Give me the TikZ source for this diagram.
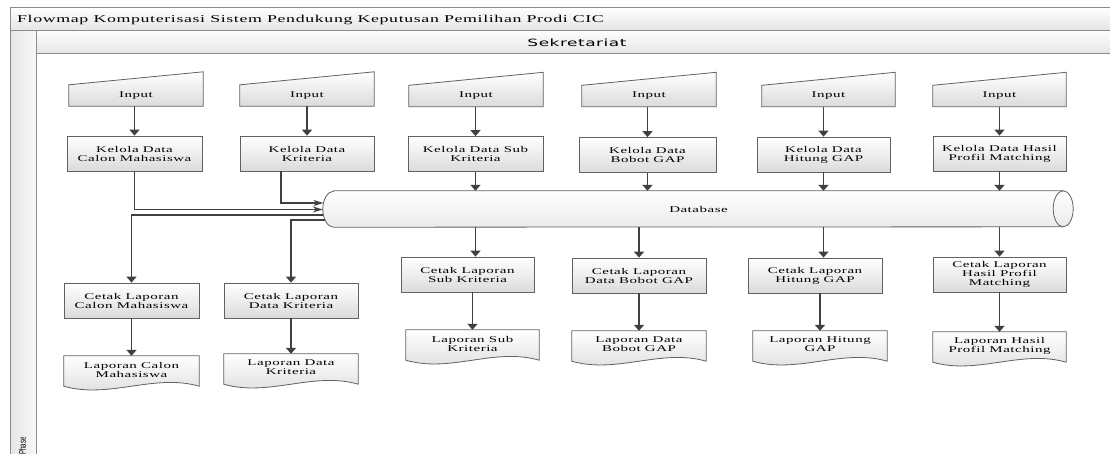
\documentclass[tikz,border=0pt]{standalone}
\usepackage{fontspec}
\usetikzlibrary{arrows.meta,calc,backgrounds}
\newfontfamily\flowserif[FakeStretch=1.7,LetterSpace=6]{Liberation Serif}
\newfontfamily\flowsans[FakeStretch=1.7,LetterSpace=5]{DejaVu Sans}
\newfontfamily\flowlabel{Liberation Sans}
\begin{document}
\begin{tikzpicture}[x=1pt,y=-1pt,
  lanefill/.style={top color=white,bottom color=black!10},
  laneline/.style={draw=black!45,line width=0.9pt},
  txt/.style={font=\flowserif\fontsize{8.8}{9}\selectfont,align=center,text=black},
  procbox/.style={txt,draw=black!62,line width=0.8pt,top color=white,bottom color=black!14,inner sep=0pt,minimum height=35pt},
  inbox/.style={txt,inner sep=0pt,minimum height=21pt},
  docbox/.style={txt,inner sep=0pt,minimum height=27pt},
  shapeline/.style={draw=black!62,line width=0.8pt,top color=white,bottom color=black!14},
  flow/.style={draw=black!75,line width=1.8pt,-{Triangle[length=6pt,width=10pt]}},
  feed/.style={draw=black!75,line width=1.3pt,-{Stealth[length=10pt,width=6pt,inset=3pt]}},
]
\useasboundingbox (0,0) rectangle (1110,453);

% swimlane frame
\path[lanefill] (10,7) rectangle (1111,30);
\path[lanefill] (36,30) rectangle (1111,53);
\path[left color=black!10,right color=black!3] (10,30) rectangle (36,454);
\draw[laneline] (1111,7) -- (10,7) -- (10,454);
\draw[laneline] (10,30) -- (1111,30);
\draw[laneline] (36,30) -- (36,454);
\draw[laneline] (36,53) -- (1111,53);

\node[anchor=base west,font=\flowserif\fontsize{10.5}{12}\selectfont,inner sep=0pt] (title) at (17,22)
  {Flowmap Komputerisasi Sistem Pendukung Keputusan Pemilihan Prodi CIC};
\node[anchor=base,font=\flowsans\fontsize{10}{12}\selectfont,inner sep=0pt] (lane) at (577,46) {Sekretariat};
\node[rotate=90,font=\flowlabel\fontsize{6}{7}\selectfont,inner sep=0pt] (phase) at (22.5,446) {\scalebox{1}[1.6]{Phase}};

% manual inputs
\node[inbox,minimum width=134pt] (i1) at (136,95.5) {Input};
\node[inbox,minimum width=134pt] (i2) at (307,95.5) {Input};
\node[inbox,minimum width=134pt] (i3) at (476,96) {Input};
\node[inbox,minimum width=134pt] (i4) at (649,96) {Input};
\node[inbox,minimum width=133pt] (i5) at (828.5,96) {Input};
\node[inbox,minimum width=133pt] (i6) at (999.5,96) {Input};

% data management processes
\node[procbox,minimum width=135pt] (k1) at (134.5,153.5) {Kelola Data\\Calon Mahasiswa};
\node[procbox,minimum width=134pt] (k2) at (307,153.5) {Kelola Data\\Kriteria};
\node[procbox,minimum width=135pt] (k3) at (475.5,154) {Kelola Data Sub\\Kriteria};
\node[procbox,minimum width=137pt] (k4) at (647.5,155) {Kelola Data\\Bobot GAP};
\node[procbox,minimum width=133pt] (k5) at (823.5,154.5) {Kelola Data\\Hitung GAP};
\node[procbox,minimum width=133pt] (k6) at (999.5,153.5) {Kelola Data Hasil\\Profil Matching};

% database
\node[txt,minimum width=729pt,minimum height=36pt,inner sep=0pt] (db) at (698.5,209) {Database};

% report printing processes
\node[procbox,minimum width=135pt] (c1) at (131.5,300.5) {Cetak Laporan\\Calon Mahasiswa};
\node[procbox,minimum width=134pt] (c2) at (291,300.5) {Cetak Laporan\\Data Kriteria};
\node[procbox,minimum width=133pt] (c3) at (467.5,274.5) {Cetak Laporan\\Sub Kriteria};
\node[procbox,minimum width=134pt] (c4) at (639,275.5) {Cetak Laporan\\Data Bobot GAP};
\node[procbox,minimum width=134pt] (c5) at (815,275.5) {Cetak Laporan\\Hitung GAP};
\node[procbox,minimum width=133pt] (c6) at (999.5,274.5) {Cetak Laporan\\Hasil Profil\\Matching};

% report documents
\node[docbox,minimum width=135pt] (l1) at (131.5,369.5) {Laporan Calon\\Mahasiswa};
\node[docbox,minimum width=134pt] (l2) at (291,367.5) {Laporan Data\\Kriteria};
\node[docbox,minimum width=133pt] (l3) at (472.5,343.5) {Laporan Sub\\Kriteria};
\node[docbox,minimum width=134pt] (l4) at (639,344.5) {Laporan Data\\Bobot GAP};
\node[docbox,minimum width=134pt] (l5) at (820,344.5) {Laporan Hitung\\GAP};
\node[docbox,minimum width=133pt] (l6) at (999.5,345.5) {Laporan Hasil\\Profil Matching};

% outlines of the input, document and database shapes, kept behind the text
\begin{scope}[on background layer]
  \fill[white] (0,0) rectangle (1110,453);
  \foreach \n in {i1,i2,i3,i4,i5,i6}
    \path[shapeline] (\n.south west) -- (\n.south east) -- ($(\n.north east)+(0,-13)$)
      -- (\n.north west) -- cycle;
  \foreach \n in {l1,l2,l3,l4,l5,l6}
    \path[shapeline] (\n.north west) -- (\n.north east) -- ($(\n.south east)+(0,3)$)
      .. controls ($(\n.south east)+(-45,-10)$) and ($(\n.south west)+(45,16)$) .. ($(\n.south west)+(0,3)$)
      -- cycle;
  \path[shapeline,bottom color=black!8] (db.north west) -- (db.north east)
    arc[start angle=-90,end angle=90,x radius=10,y radius=18] -- (db.south west)
    arc[start angle=90,end angle=270,x radius=11,y radius=18] -- cycle;
  \draw[draw=black!62,line width=0.8pt] (db.north east)
    arc[start angle=-90,end angle=-270,x radius=10,y radius=18];
\end{scope}

% points on the rounded left end of the database
\coordinate (dbinA) at ($(db.west)+(-10.4,-6)$);
\coordinate (dbinB) at ($(db.west)+(-11,0.5)$);
\coordinate (dboutA) at ($(db.west)+(-10.4,6)$);
\coordinate (dboutB) at ($(db.west)+(-8.7,11)$);
\coordinate (k2tap) at ($(k2.south)+(-26,0)$);

% connectors
\foreach \i in {1,...,6}
  \draw[flow] (k\i.north |- i\i.south) -- (k\i.north);
\foreach \i in {3,...,6}
  \draw[flow] (k\i.south) -- (k\i.south |- db.north);
\draw[feed] (k1.south) |- (dbinB);
\draw[feed] (k2tap) |- (dbinA);
\draw[flow] (dboutA) -| (c1.north);
\draw[flow] (dboutB) -| (c2.north);
\draw[flow] (k3.south |- db.south) -- (k3.south |- c3.north);
\draw[flow] (c4.north |- db.south) -- (c4.north);
\draw[flow] (k5.south |- db.south) -- (k5.south |- c5.north);
\draw[flow] (c6.north |- db.south) -- (c6.north);
\foreach \i in {1,...,6}
  \draw[flow] (l\i.north |- c\i.south) -- (l\i.north);
\end{tikzpicture}
\end{document}
